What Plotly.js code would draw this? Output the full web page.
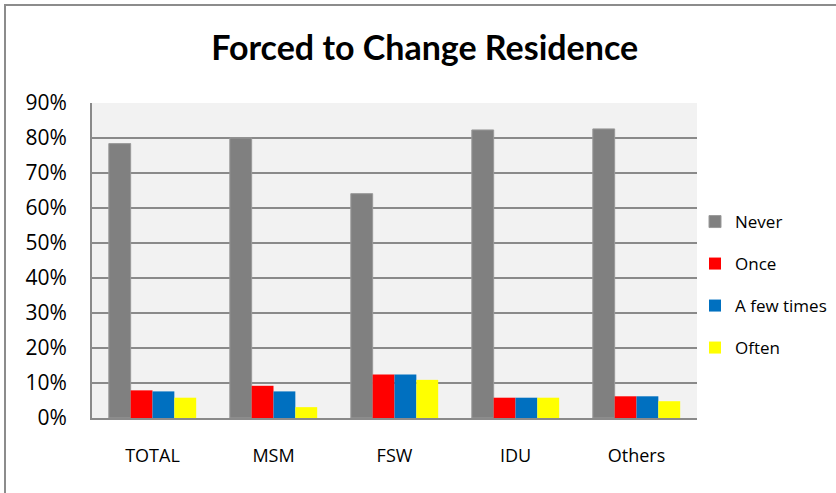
<!DOCTYPE html>
<html>
<head>
<meta charset="utf-8">
<script src="https://cdn.plot.ly/plotly-3.0.1.min.js"></script>
<style>
html,body{margin:0;padding:0;background:#fff;}
#wrap{position:relative;width:836px;height:493px;overflow:hidden;}
#frame{position:absolute;left:4px;top:4px;width:840px;height:500px;border-left:2px solid #8c8c8c;border-top:2px solid #8c8c8c;box-sizing:border-box;pointer-events:none;}
#chart{position:absolute;left:0;top:0;width:836px;height:493px;}
</style>
</head>
<body>
<div id="wrap">
<div id="chart"></div>
<div id="frame"></div>
</div>
<script>
const categories = ["TOTAL", "MSM", "FSW", "IDU", "Others"];
const never = [0.784, 0.800, 0.641, 0.823, 0.826];
const once = [0.079, 0.092, 0.124, 0.058, 0.062];
const fewTimes = [0.076, 0.076, 0.124, 0.058, 0.062];
const often = [0.058, 0.031, 0.109, 0.058, 0.048];
const seriesNames = ["Never", "Once", "A few times", "Often"];
const yTicks = [0, 0.1, 0.2, 0.3, 0.4, 0.5, 0.6, 0.7, 0.8, 0.9];
const yTickLabels = ["0%", "10%", "20%", "30%", "40%", "50%", "60%", "70%", "80%", "90%"];

const colors = ["#808080", "#ff0000", "#0070c0", "#ffff00"];
const lineColors = ["#9a9a9a", "#ff0000", "#3a8fd0", "#ffff00"];
const values = [never, once, fewTimes, often];
const legendIds = ["legend", "legend2", "legend3", "legend4"];
const legendY = [222, 264, 306, 348];
const H = 493;

const traces = values.map((v, i) => ({
  type: "bar",
  x: categories,
  y: v,
  name: seriesNames[i],
  legend: legendIds[i],
  marker: {color: colors[i], line: {color: lineColors[i], width: i === 0 ? 1 : 0}},
  hoverinfo: "skip"
}));

const bodyFont = "'Open Sans', Lato, sans-serif";
const layout = {
  width: 836, height: 493,
  margin: {l: 92, r: 139, t: 103, b: 75, pad: 0, autoexpand: false},
  paper_bgcolor: "rgba(0,0,0,0)",
  plot_bgcolor: "#f2f2f2",
  font: {family: bodyFont, color: "#000"},
  title: {text: "<b>Forced to Change Residence</b>", font: {family: "Lato, sans-serif", size: 34, color: "#000"}, x: 0.508, xanchor: "center", y: 1 - 48 / H, yanchor: "middle"},
  barmode: "group",
  bargap: 0.278,
  bargroupgap: 0,
  xaxis: {
    showgrid: false, showline: true, linecolor: "#8a8a8a", linewidth: 2,
    tickfont: {family: bodyFont, size: 18, color: "#000"},
    ticks: "", ticklabelstandoff: 20, fixedrange: true
  },
  yaxis: {
    range: [0, 0.9], tickvals: yTicks, ticktext: yTickLabels,
    showgrid: true, gridcolor: "#8a8a8a", gridwidth: 1.5,
    showline: true, linecolor: "#8a8a8a", linewidth: 2, zeroline: false,
    tickfont: {family: bodyFont, size: 21, color: "#000"},
    ticks: "", ticklabelstandoff: 19, fixedrange: true
  },
  showlegend: true
};
legendIds.forEach((id, i) => {
  layout[id] = {
    x: 1 + (695 - 697) / (697 - 92), xanchor: "left",
    y: 1 - (legendY[i] - 103) / (418 - 103), yanchor: "middle",
    yref: "paper",
    bgcolor: "rgba(0,0,0,0)",
    font: {family: bodyFont, size: 17, color: "#000"},
    itemwidth: 30
  };
});

Plotly.newPlot("chart", traces, layout, {staticPlot: true, displayModeBar: false});
</script>
</body>
</html>
